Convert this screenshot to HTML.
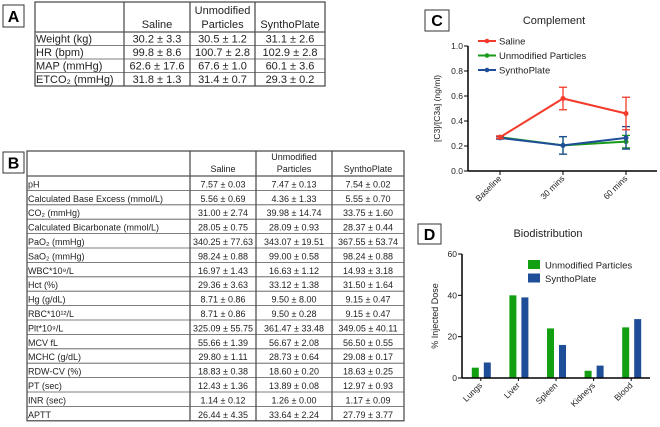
<!DOCTYPE html>
<html><head><meta charset="utf-8">
<style>
body{margin:0;background:#fff;width:660px;height:427px;overflow:hidden;font-family:"Liberation Sans",sans-serif;}
svg{position:absolute;left:0;top:0}
</style></head><body>
<svg width="660" height="427" viewBox="0 0 660 427" font-family="Liberation Sans, sans-serif">
<g id="tA"></g>
<g id="tB"></g>
<g id="cC"></g>
<g id="cD"></g>
</svg>
<script>
const NS="http://www.w3.org/2000/svg";
function mk(p,tag,a,txt){const e=document.createElementNS(NS,tag);for(const k in a)e.setAttribute(k,a[k]);if(txt!==undefined)e.textContent=txt;p.appendChild(e);return e;}

// Table A
const aHead=["","Saline","Unmodified|Particles","SynthoPlate"];
const aRows=[["Weight (kg)","30.2 ± 3.3","30.5 ± 1.2","31.1 ± 2.6"],["HR (bpm)","99.8 ± 8.6","100.7 ± 2.8","102.9 ± 2.8"],["MAP (mmHg)","62.6 ± 17.6","67.6 ± 1.0","60.1 ± 3.6"],["ETCO₂ (mmHg)","31.8 ± 1.3","31.4 ± 0.7","29.3 ± 0.2"]];
// Table B
const bHead=["","Saline","Unmodified|Particles","SynthoPlate"];
const bRows=[["pH","7.57 ± 0.03","7.47 ± 0.13","7.54 ± 0.02"],["Calculated Base Excess (mmol/L)","5.56 ± 0.69","4.36 ± 1.33","5.55 ± 0.70"],["CO₂ (mmHg)","31.00 ± 2.74","39.98 ± 14.74","33.75 ± 1.60"],["Calculated Bicarbonate (mmol/L)","28.05 ± 0.75","28.09 ± 0.93","28.37 ± 0.44"],["PaO₂ (mmHg)","340.25 ± 77.63","343.07 ± 19.51","367.55 ± 53.74"],["SaO₂ (mmHg)","98.24 ± 0.88","99.00 ± 0.58","98.24 ± 0.88"],["WBC*10⁹/L","16.97 ± 1.43","16.63 ± 1.12","14.93 ± 3.18"],["Hct (%)","29.36 ± 3.63","33.12 ± 1.38","31.50 ± 1.64"],["Hg (g/dL)","8.71 ± 0.86","9.50 ± 8.00","9.15 ± 0.47"],["RBC*10¹²/L","8.71 ± 0.86","9.50 ± 0.28","9.15 ± 0.47"],["Plt*10⁹/L","325.09 ± 55.75","361.47 ± 33.48","349.05 ± 40.11"],["MCV fL","55.66 ± 1.39","56.67 ± 2.08","56.50 ± 0.55"],["MCHC (g/dL)","29.80 ± 1.11","28.73 ± 0.64","29.08 ± 0.17"],["RDW-CV (%)","18.83 ± 0.38","18.60 ± 0.20","18.63 ± 0.25"],["PT (sec)","12.43 ± 1.36","13.89 ± 0.08","12.97 ± 0.93"],["INR (sec)","1.14 ± 0.12","1.26 ± 0.00","1.17 ± 0.09"],["APTT","26.44 ± 4.35","33.64 ± 2.24","27.79 ± 3.77"]];

function table(g,cols,top,headH,rowH,head,rows,fs,label,lbox){
  mk(g,'rect',{x:lbox[0],y:lbox[1],width:lbox[2],height:lbox[3],fill:'#fff',stroke:'#333','stroke-width':1});
  const L=mk(g,'text',{x:lbox[0]+lbox[2]/2,y:lbox[1]+lbox[3]/2+6,'text-anchor':'middle','font-size':16,'font-weight':'bold'},label);
  
  
  const bottom=top+headH+rowH*rows.length;
  mk(g,'rect',{x:cols[0],y:top,width:cols[cols.length-1]-cols[0],height:bottom-top,fill:'none',stroke:'#444','stroke-width':1.2});
  for(let i=1;i<cols.length-1;i++)mk(g,'line',{x1:cols[i],x2:cols[i],y1:top,y2:bottom,stroke:'#444','stroke-width':1.2});
  for(let r=0;r<rows.length;r++){const y=top+headH+r*rowH;mk(g,'line',{x1:cols[0],x2:cols[cols.length-1],y1:y,y2:y,stroke:'#555','stroke-width':r==0?1.2:0.8});}
  head.forEach((h,i)=>{if(!h)return;const parts=h.split('|');const cx=(cols[i]+cols[i+1])/2;
    parts.forEach((p,j)=>{const t=mk(g,'text',{x:cx,y:top+headH-4-(parts.length-1-j)*(fs+3),'text-anchor':'middle','font-size':fs,fill:'#222'},p);
      
      });});
  rows.forEach((row,r)=>{const y=top+headH+(r+1)*rowH-3;
    row.forEach((c,i)=>{const t=mk(g,'text',{x:i==0?cols[0]+1:(cols[i]+cols[i+1])/2,y:y,'text-anchor':i==0?'start':'middle','font-size':fs,fill:'#222'},c);
      
      });});
}
table(document.getElementById('tA'),[35,124,190,255,325],2,30,13.5,aHead,aRows,11,'A',[3,5,21,22]);
table(document.getElementById('tB'),[27,190,256,332,404],151,25,14.4,bHead,bRows,9,'B',[3,152,21,21]);

// Chart C
const cCats=["Baseline","30 mins","60 mins"];
const salineVals=[0.27,0.58,0.46];
const salineErr=[0.01,0.09,0.13];
const unmodVals=[0.27,0.205,0.235];
const unmodErr=[0.01,0.07,0.05];
const synthVals=[0.265,0.205,0.265];
const synthErr=[0.01,0.07,0.09];
const cTicks=["0.0","0.2","0.4","0.6","0.8","1.0"];
(function(){
  const g=document.getElementById('cC');
  const x0=468,x1=657,yTop=46,yBot=171;
  const ys=v=>yBot-(v/1.0)*(yBot-yTop);
  const xs=i=>500+i*63;
  mk(g,'rect',{x:425,y:10,width:24,height:21,fill:'#fff',stroke:'#333'});
  mk(g,'text',{x:437,y:26,'text-anchor':'middle','font-size':16,'font-weight':'bold'},'C');
  mk(g,'text',{x:554,y:24,'text-anchor':'middle','font-size':11,fill:'#222'},'Complement');
  mk(g,'line',{x1:x0,x2:x0,y1:yTop,y2:yBot,stroke:'#000','stroke-width':1.5});
  mk(g,'line',{x1:x0,x2:x1,y1:yBot,y2:yBot,stroke:'#000','stroke-width':1.5});
  cTicks.forEach(t=>{const y=ys(parseFloat(t));mk(g,'line',{x1:x0-4,x2:x0,y1:y,y2:y,stroke:'#000'});
    mk(g,'text',{x:x0-5,y:y+3,'text-anchor':'end','font-size':8.5,fill:'#222'},t);});
  cCats.forEach((c,i)=>{mk(g,'line',{x1:xs(i),x2:xs(i),y1:yBot,y2:yBot+4,stroke:'#000'});
    const t=mk(g,'text',{x:xs(i)+2,y:yBot+8,'text-anchor':'end','font-size':8.5,fill:'#222',transform:`rotate(-45 ${xs(i)+2} ${yBot+8})`},c);
    
    });
  const yt=mk(g,'text',{x:0,y:0,'text-anchor':'middle','font-size':8.5,fill:'#222',transform:`translate(440 ${(yTop+yBot)/2}) rotate(-90)`},'[C3]/[C3a] (ng/ml)');
  
  
  const series=[[unmodVals,unmodErr,'#1a9a1a','square'],[synthVals,synthErr,'#1f4e99','tri'],[salineVals,salineErr,'#f43a2a','circle']];
  series.forEach(([v,e,col,m])=>{
    mk(g,'polyline',{points:v.map((d,i)=>xs(i)+','+ys(d)).join(' '),fill:'none',stroke:col,'stroke-width':2});
    v.forEach((d,i)=>{
      mk(g,'line',{x1:xs(i),x2:xs(i),y1:ys(d-e[i]),y2:ys(d+e[i]),stroke:col,'stroke-width':1.3});
      [d-e[i],d+e[i]].forEach(q=>mk(g,'line',{x1:xs(i)-4,x2:xs(i)+4,y1:ys(q),y2:ys(q),stroke:col,'stroke-width':1.3}));
      const p=mk(g,'circle',{cx:xs(i),cy:ys(d),r:2.5,fill:col});
      
      
    });
  });
  const leg=[["Saline",'#f43a2a'],["Unmodified Particles",'#1a9a1a'],["SynthoPlate",'#1f4e99']];
  leg.forEach(([n,col],i)=>{const y=41+i*14.5;
    mk(g,'line',{x1:478,x2:496,y1:y,y2:y,stroke:col,'stroke-width':2});
    mk(g,'circle',{cx:487,cy:y,r:2.3,fill:col});
    const t=mk(g,'text',{x:499,y:y+3.5,'font-size':9.5,fill:'#222'},n);
    
    });
})();

// Chart D
const dCats=["Lungs","Liver","Spleen","Kidneys","Blood"];
const dUnmod=[5,40,24,3.5,24.5];
const dSynth=[7.5,39,16,6,28.5];
const dTicks=[0,20,40,60];
(function(){
  const g=document.getElementById('cD');
  const x0=462,x1=650,yTop=254,yBot=378;
  const ys=v=>yBot-(v/60)*(yBot-yTop);
  const bw=(x1-x0)/dCats.length;
  const xc=i=>x0+bw*(i+0.5);
  mk(g,'rect',{x:418,y:224,width:23,height:20,fill:'#fff',stroke:'#333'});
  mk(g,'text',{x:429.5,y:240,'text-anchor':'middle','font-size':16,'font-weight':'bold'},'D');
  mk(g,'text',{x:548,y:237,'text-anchor':'middle','font-size':11,fill:'#222'},'Biodistribution');
  dCats.forEach((c,i)=>{
    const b1=mk(g,'rect',{x:xc(i)-9,y:ys(dUnmod[i]),width:7,height:yBot-ys(dUnmod[i]),fill:'#12a012'});
    
    
    const b2=mk(g,'rect',{x:xc(i)+3,y:ys(dSynth[i]),width:7,height:yBot-ys(dSynth[i]),fill:'#1f4e99'});
    
    
    mk(g,'line',{x1:xc(i),x2:xc(i),y1:yBot,y2:yBot+3,stroke:'#000'});
    const t=mk(g,'text',{x:xc(i)+2,y:yBot+8,'text-anchor':'end','font-size':8.5,fill:'#222',transform:`rotate(-45 ${xc(i)+2} ${yBot+8})`},c);
    
    
  });
  mk(g,'line',{x1:x0,x2:x0,y1:yTop,y2:yBot,stroke:'#000','stroke-width':1.5});
  mk(g,'line',{x1:x0,x2:x1,y1:yBot,y2:yBot,stroke:'#000','stroke-width':1.5});
  dTicks.forEach(v=>{const y=ys(v);mk(g,'line',{x1:x0-4,x2:x0,y1:y,y2:y,stroke:'#000'});
    mk(g,'text',{x:x0-5,y:y+3,'text-anchor':'end','font-size':8.5,fill:'#222'},String(v));});
  const yt=mk(g,'text',{x:0,y:0,'text-anchor':'middle','font-size':9,fill:'#222',transform:`translate(438 ${(yTop+yBot)/2}) rotate(-90)`},'% Injected Dose');
  
  
  [["Unmodified Particles",'#12a012'],["SynthoPlate",'#1f4e99']].forEach(([n,col],i)=>{const y=265+i*13.5;
    mk(g,'rect',{x:528,y:y-5,width:12,height:9,fill:col});
    const t=mk(g,'text',{x:545,y:y+3.5,'font-size':9.5,fill:'#222'},n);
    
    });
})();
</script>
</body></html>
